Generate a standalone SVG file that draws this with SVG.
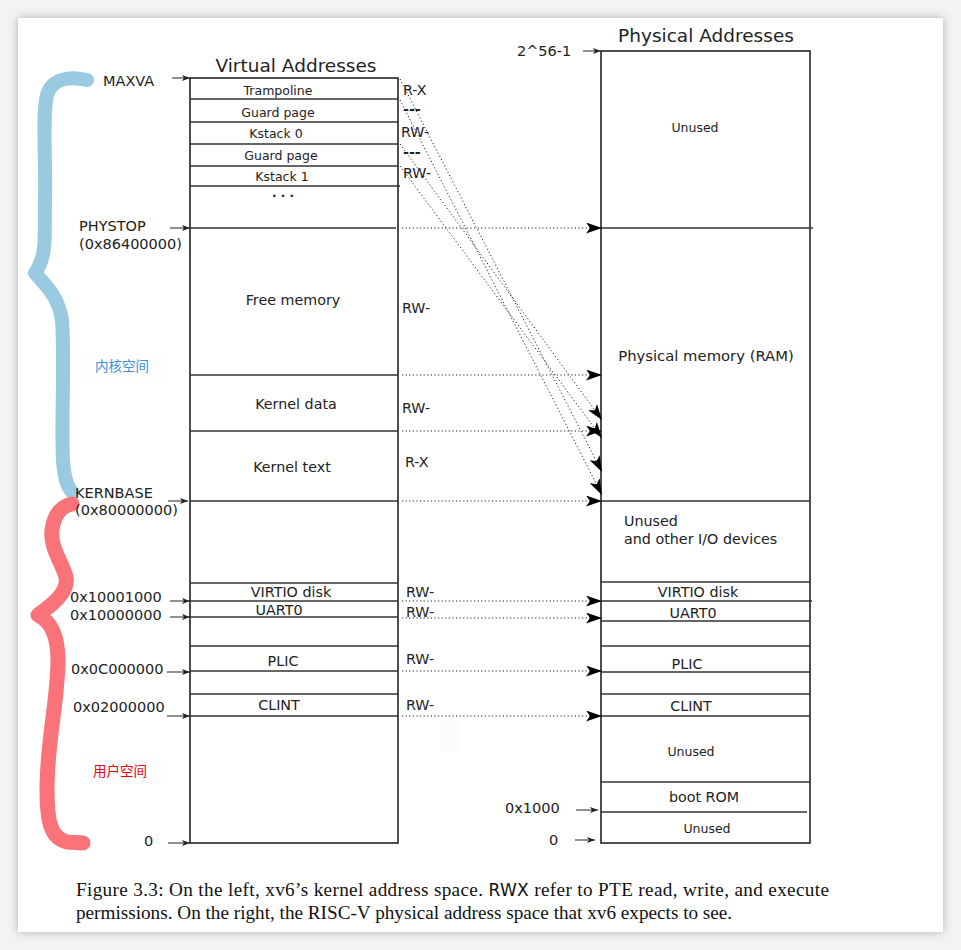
<svg xmlns="http://www.w3.org/2000/svg" width="961" height="950" viewBox="0 0 961 950">
<defs>
  <filter id="shadow" x="-5%" y="-5%" width="110%" height="110%">
    <feDropShadow dx="0" dy="0" stdDeviation="5" flood-color="#000" flood-opacity="0.28"/>
  </filter>
  <marker id="big" markerUnits="userSpaceOnUse" viewBox="0 0 16 11" refX="16" refY="5.5" markerWidth="16" markerHeight="11" orient="auto">
    <path d="M0,0 L16,5.5 L0,11 L4,5.5 z" fill="#000"/>
  </marker>
  <marker id="small" markerUnits="userSpaceOnUse" viewBox="0 0 8 6" refX="8" refY="3" markerWidth="8" markerHeight="6" orient="auto">
    <path d="M0,0 L8,3 L0,6 L2,3 z" fill="#222"/>
  </marker>
</defs>
<style>
  .t { font-family: "DejaVu Sans", "Noto Sans CJK SC", sans-serif; fill: #222; }
  .s125 { font-size: 12.5px; }
  .s14 { font-size: 14.3px; }
  .s145 { font-size: 14.5px; }
  .title { font-size: 18.5px; }
  .box { fill: none; stroke: #222; stroke-width: 1.6; }
  .row { stroke: #333; stroke-width: 1.4; }
  .lbl { stroke: #222; stroke-width: 1; fill: none; marker-end: url(#small); }
  .dot { stroke: #222; stroke-width: 1; fill: none; stroke-dasharray: 1.2 2.4; marker-end: url(#big); }
  .cap { font-family: "Liberation Serif", "Times New Roman", serif; font-size: 19.2px; fill: #111; }
  .cjk { font-family: "Noto Sans CJK SC", sans-serif; font-size: 13.5px; }
</style>
<rect x="0" y="0" width="961" height="950" fill="#f3f3f3"/>
<rect x="18" y="18" width="925" height="914" fill="#ffffff" filter="url(#shadow)"/>

<!-- braces -->
<g id="kernel-brace">
  <path d="M87,80 C70,76 52,78 47,95 C42,115 46,160 45,200 C44,235 48,255 35,273 C45,285 58,295 62,320 C65,360 61,420 63,460 C64,475 66,485 72,492" fill="none" stroke="#99cae2" stroke-width="14" stroke-linecap="round" stroke-linejoin="round"/>
  <rect x="85" y="352" width="77" height="28" fill="#fdfdfd"/>
  <text class="cjk" x="95" y="371" fill="#3b94d9">内核空间</text>
</g>
<g id="user-brace">
  <path d="M72,504 C62,506 54,514 52,530 C50,548 62,562 66,577 C69,592 52,605 38,615 C51,622 58,635 58,660 C58,700 47,740 47,790 C47,820 50,838 67,842 L83,843" fill="none" stroke="#fa7378" stroke-width="15" stroke-linecap="round" stroke-linejoin="round"/>
  <rect x="84" y="756" width="77" height="28" fill="#fdfdfd"/>
  <text class="cjk" x="93" y="776" fill="#e60012">用户空间</text>
</g>
<rect x="440" y="721" width="19" height="31" fill="#fcfbf9"/>

<!-- Virtual address space -->
<g id="virtual">
  <text class="t title" x="296" y="72" text-anchor="middle">Virtual Addresses</text>
  <rect class="box" x="190" y="78" width="208" height="765"/>
  <line class="row" x1="190" y1="99" x2="398" y2="99"/>
  <line class="row" x1="190" y1="122" x2="398" y2="122"/>
  <line class="row" x1="190" y1="144" x2="398" y2="144"/>
  <line class="row" x1="190" y1="166" x2="398" y2="166"/>
  <line class="row" x1="190" y1="186" x2="400" y2="186"/>
  <line class="row" x1="190" y1="228" x2="396" y2="228"/>
  <line class="row" x1="190" y1="375" x2="398" y2="375"/>
  <line class="row" x1="190" y1="431" x2="398" y2="431"/>
  <line class="row" x1="190" y1="501" x2="398" y2="501"/>
  <line class="row" x1="190" y1="583" x2="398" y2="583"/>
  <line class="row" x1="190" y1="601" x2="398" y2="601"/>
  <line class="row" x1="190" y1="617" x2="398" y2="617"/>
  <line class="row" x1="190" y1="646" x2="398" y2="646"/>
  <line class="row" x1="190" y1="671" x2="398" y2="671"/>
  <line class="row" x1="190" y1="694" x2="398" y2="694"/>
  <line class="row" x1="190" y1="716" x2="398" y2="716"/>
  <text class="t s125" x="278" y="95" text-anchor="middle">Trampoline</text>
  <text class="t s125" x="278" y="117" text-anchor="middle">Guard page</text>
  <text class="t s125" x="276" y="138" text-anchor="middle">Kstack 0</text>
  <text class="t s125" x="281" y="160" text-anchor="middle">Guard page</text>
  <text class="t s125" x="282" y="181" text-anchor="middle">Kstack 1</text>
  <text class="t" x="283" y="197" text-anchor="middle" font-size="12px" font-weight="bold">. . .</text>
  <text class="t s14" x="293" y="305" text-anchor="middle">Free memory</text>
  <text class="t s14" x="296" y="409" text-anchor="middle">Kernel data</text>
  <text class="t s14" x="292" y="472" text-anchor="middle">Kernel text</text>
  <text class="t s14" x="291" y="597" text-anchor="middle">VIRTIO disk</text>
  <text class="t s14" x="279" y="615" text-anchor="middle">UART0</text>
  <text class="t s14" x="283" y="666" text-anchor="middle">PLIC</text>
  <text class="t s14" x="279" y="710" text-anchor="middle">CLINT</text>
</g>

<!-- virtual address labels -->
<g id="virtual-labels">
  <text class="t s145" x="103" y="86">MAXVA</text>
  <text class="t s145" x="79" y="231">PHYSTOP</text>
  <text class="t s145" x="79" y="249">(0x86400000)</text>
  <text class="t s145" x="75" y="498">KERNBASE</text>
  <text class="t s145" x="75" y="515">(0x80000000)</text>
  <text class="t s145" x="70" y="602">0x10001000</text>
  <text class="t s145" x="70" y="620">0x10000000</text>
  <text class="t s145" x="71" y="674">0x0C000000</text>
  <text class="t s145" x="73" y="712">0x02000000</text>
  <text class="t s145" x="144" y="846">0</text>
</g>

<!-- permissions -->
<g id="perms">
  <text class="t s14" x="403" y="95">R-X</text>
  <text class="t s14" x="403" y="114" font-weight="bold">---</text>
  <text class="t s14" x="401" y="137">RW-</text>
  <text class="t s14" x="403" y="157" font-weight="bold">---</text>
  <text class="t s14" x="403" y="178">RW-</text>
  <text class="t s14" x="402" y="313">RW-</text>
  <text class="t s14" x="402" y="413">RW-</text>
  <text class="t s14" x="405" y="467">R-X</text>
  <text class="t s14" x="406" y="597">RW-</text>
  <text class="t s14" x="406" y="617">RW-</text>
  <text class="t s14" x="406" y="664">RW-</text>
  <text class="t s14" x="406" y="710">RW-</text>
</g>

<!-- Physical address space -->
<g id="physical">
  <text class="t title" x="706" y="42" text-anchor="middle">Physical Addresses</text>
  <rect class="box" x="601" y="51" width="209" height="792"/>
  <line class="row" x1="601" y1="228" x2="813" y2="228"/>
  <line class="row" x1="601" y1="501" x2="810" y2="501"/>
  <line class="row" x1="601" y1="582" x2="810" y2="582"/>
  <line class="row" x1="601" y1="601" x2="812" y2="601"/>
  <line class="row" x1="601" y1="621" x2="810" y2="621"/>
  <line class="row" x1="601" y1="646" x2="810" y2="646"/>
  <line class="row" x1="601" y1="672" x2="810" y2="672"/>
  <line class="row" x1="601" y1="694" x2="810" y2="694"/>
  <line class="row" x1="601" y1="716" x2="810" y2="716"/>
  <line class="row" x1="601" y1="782" x2="810" y2="782"/>
  <line class="row" x1="601" y1="812" x2="807" y2="812"/>
  <text class="t s125" x="695" y="132" text-anchor="middle">Unused</text>
  <text class="t" x="706" y="361" text-anchor="middle" font-size="14.8px">Physical memory (RAM)</text>
  <text class="t s14" x="624" y="526">Unused</text>
  <text class="t s14" x="624" y="544">and other I/O devices</text>
  <text class="t s14" x="698" y="597" text-anchor="middle">VIRTIO disk</text>
  <text class="t s14" x="693" y="618" text-anchor="middle">UART0</text>
  <text class="t s14" x="687" y="669" text-anchor="middle">PLIC</text>
  <text class="t s14" x="691" y="711" text-anchor="middle">CLINT</text>
  <text class="t s125" x="691" y="756" text-anchor="middle">Unused</text>
  <text class="t s14" x="704" y="802" text-anchor="middle">boot ROM</text>
  <text class="t s125" x="707" y="833" text-anchor="middle">Unused</text>
</g>

<g id="physical-labels">
  <text class="t s145" x="517" y="56">2^56-1</text>
  <text class="t s145" x="505" y="813">0x1000</text>
  <text class="t s145" x="549" y="845">0</text>
</g>

<!-- connectors -->
<g id="connectors">
  <line class="lbl" x1="172" y1="78" x2="190" y2="78"/>
  <line class="lbl" x1="170" y1="228" x2="190" y2="228"/>
  <line class="lbl" x1="168" y1="501" x2="188" y2="501"/>
  <line class="lbl" x1="170" y1="601" x2="190" y2="601"/>
  <line class="lbl" x1="170" y1="617" x2="190" y2="617"/>
  <line class="lbl" x1="167" y1="672" x2="190" y2="672"/>
  <line class="lbl" x1="167" y1="716" x2="190" y2="716"/>
  <line class="lbl" x1="168" y1="843" x2="190" y2="843"/>
  <line class="lbl" x1="583" y1="51" x2="601" y2="51"/>
  <line class="lbl" x1="576" y1="810" x2="598" y2="810"/>
  <line class="lbl" x1="575" y1="840" x2="595" y2="840"/>

  <line class="dot" x1="402" y1="228" x2="602" y2="228"/>
  <line class="dot" x1="402" y1="375" x2="602" y2="375"/>
  <line class="dot" x1="402" y1="431" x2="602" y2="431"/>
  <line class="dot" x1="402" y1="501" x2="602" y2="501"/>
  <line class="dot" x1="402" y1="601" x2="602" y2="601"/>
  <line class="dot" x1="402" y1="618" x2="602" y2="618"/>
  <line class="dot" x1="402" y1="671" x2="602" y2="671"/>
  <line class="dot" x1="402" y1="716" x2="602" y2="716"/>

  <line class="dot" x1="400" y1="79" x2="602" y2="472"/>
  <line class="dot" x1="400" y1="100" x2="602" y2="495"/>
  <line class="dot" x1="400" y1="144" x2="602" y2="420"/>
  <line class="dot" x1="400" y1="166" x2="602" y2="438"/>
</g>

<!-- caption -->
<g id="caption">
  <text class="cap" x="76" y="896" textLength="753" lengthAdjust="spacing">Figure 3.3: On the left, xv6’s kernel address space. <tspan font-family="DejaVu Sans, sans-serif" font-size="17px">RWX</tspan> refer to PTE read, write, and execute</text>
  <text class="cap" x="76" y="919">permissions. On the right, the RISC-V physical address space that xv6 expects to see.</text>
</g>
</svg>
